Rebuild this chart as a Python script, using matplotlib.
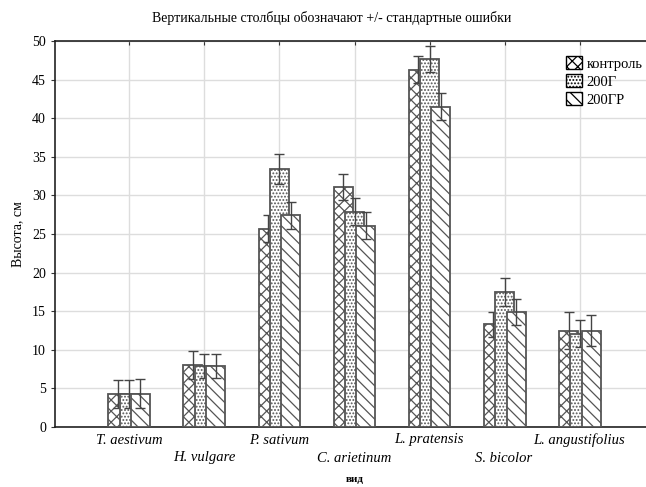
import matplotlib
matplotlib.use("Agg")
import matplotlib.pyplot as plt
import numpy as np
from matplotlib.patches import Patch

species = ["T. aestivum", "H. vulgare", "P. sativum", "C. arietinum",
           "L. pratensis", "S. bicolor", "L. angustifolius"]
series_names = ["контроль", "200Г", "200ГР"]
control = [4.3, 8.0, 25.7, 31.1, 46.3, 13.3, 12.5]
g200 = [4.3, 7.9, 33.4, 27.9, 47.7, 17.5, 12.1]
gr200 = [4.3, 7.9, 27.4, 26.1, 41.5, 14.9, 12.5]
control_err = [1.8, 1.8, 1.7, 1.7, 1.7, 1.6, 2.4]
g200_err = [1.8, 1.6, 1.9, 1.7, 1.7, 1.8, 1.8]
gr200_err = [1.9, 1.6, 1.7, 1.7, 1.7, 1.7, 2.0]

plt.rcParams['font.family'] = ['Liberation Serif', 'DejaVu Serif']
plt.rcParams['hatch.linewidth'] = 0.9

W, H = 646, 487
fig = plt.figure(figsize=(W / 100, H / 100), dpi=100)
ax = fig.add_axes([55 / W, (H - 427) / H, (654 - 55) / W, (427 - 41) / H])

x = np.arange(len(species))
bw = 0.253
offs = [-0.15, 0.0, 0.15]
hatches = ['xxx', '.....', '\\\\\\']
vals = [control, g200, gr200]
errs = [control_err, g200_err, gr200_err]

z = 3
for k in range(3):
    ax.bar(x + offs[k], vals[k], width=bw, color='white', edgecolor='#555555',
           linewidth=1.3, hatch=hatches[k], zorder=z)
    ax.errorbar(x + offs[k], vals[k], yerr=errs[k], fmt='none', ecolor='#444444',
                elinewidth=1.0, capsize=3.5, capthick=1.0, zorder=z + 1)
    z += 2

ax.set_xlim(-0.987, 6.987)
ax.set_ylim(0, 50)
ax.set_yticks(np.arange(0, 51, 5))
ax.tick_params(axis='y', direction='out', length=3, labelsize=10, color='#333333')
ax.set_xticks(x)
ax.tick_params(axis='x', bottom=False, top=True, direction='in', length=3,
               labelbottom=False, color='#333333')
ax.grid(True, color='#dddddd', linewidth=1.0, zorder=0)
ax.set_axisbelow(True)
for s in ['left', 'bottom', 'top']:
    ax.spines[s].set_color('#222222')
    ax.spines[s].set_linewidth(1.2)
ax.spines['right'].set_visible(False)

# staggered italic tick labels
for i, name in enumerate(species):
    ypix = 440 if i % 2 == 0 else 458
    fig.text((129 + 75 * i) / W, 1 - ypix / H, name, ha='center', va='center',
             fontsize=10.5, style='italic')

fig.text(332 / W, 1 - 18 / H,
         "Вертикальные столбцы обозначают +/- стандартные ошибки",
         ha='center', va='center', fontsize=10)
fig.text(355 / W, 1 - 480 / H, "вид", ha='center', va='center', fontsize=8,
         weight='bold')
fig.text(18 / W, 1 - 234 / H, "Высота, см", ha='center', va='center',
         fontsize=10, rotation=90)

handles = [Patch(facecolor='white', edgecolor='black', hatch=hatches[k], linewidth=1.0)
           for k in range(3)]
leg = fig.legend(handles, series_names, loc='upper left',
                 bbox_to_anchor=(566 / W, 1 - 56 / H), frameon=False, fontsize=10.5,
                 handlelength=1.1, handleheight=1.0, handletextpad=0.3,
                 labelspacing=0.25, borderpad=0, borderaxespad=0)

fig.savefig("out.png", dpi=100)
